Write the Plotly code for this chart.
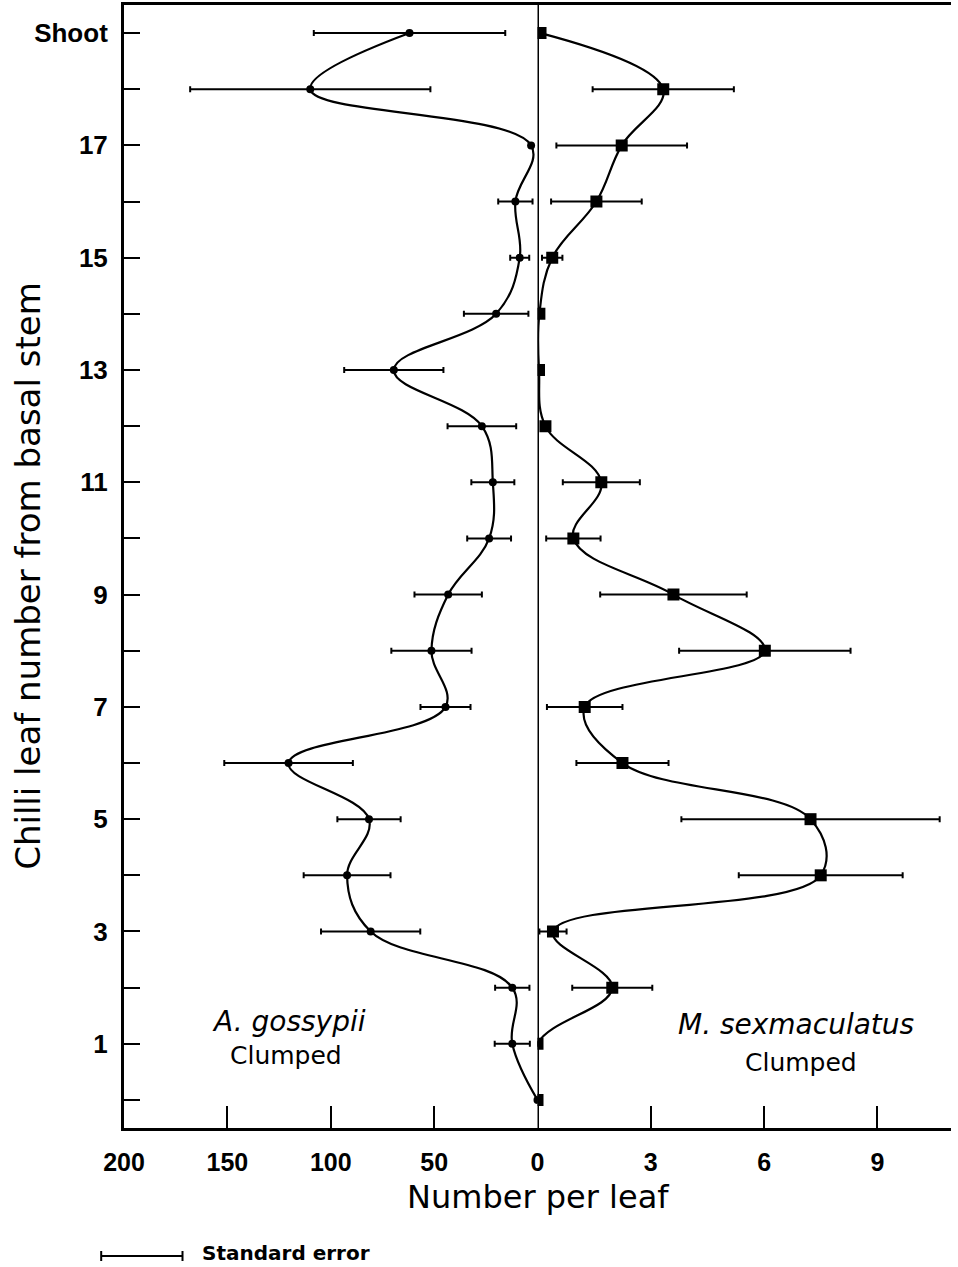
import plotly.graph_objects as go

# ---------------- data ----------------
leaf = list(range(0, 20))  # 0 .. 18 leaves, 19 = Shoot
leaf_labels = ["", "1", "", "3", "", "5", "", "7", "", "9", "", "11", "", "13", "", "15", "", "17", "", "Shoot"]

# A. gossypii (left panel) mean number per leaf and standard error
aphid_mean = [0, 12.2, 12.2, 80.7, 92.1, 81.5, 120.4, 44.5, 51.3, 43.2,
              23.4, 21.6, 26.9, 69.5, 20.0, 8.6, 10.7, 3.1, 109.9, 61.9]
aphid_se = [None, 8.5, 8.3, 24.0, 21.0, 15.3, 31.1, 12.1, 19.4, 16.3,
            10.6, 10.4, 16.6, 24.0, 15.6, 4.6, 8.3, None, 58.1, 46.3]

# M. sexmaculatus (right panel) mean number per leaf and standard error
beetle_mean = [0, 0, 1.98, 0.41, 7.5, 7.23, 2.25, 1.25, 6.02, 3.6,
               0.95, 1.69, 0.21, 0.04, 0.05, 0.39, 1.56, 2.23, 3.33, 0.08]
beetle_se = [None, None, 1.06, 0.36, 2.17, 3.42, 1.22, 1.0, 2.27, 1.94,
             0.72, 1.02, None, None, None, 0.27, 1.2, 1.73, 1.87, None]

left_ticks = [200, 150, 100, 50, 0]
right_ticks = [3, 6, 9]

# ---------------- layout geometry ----------------
W, H = 958, 1267
L, R, T, B = 124, 0, 5, 139
PW, PH = W - L - R, H - T - B


def pxx(xp):
    return (xp - L) / PW


def pyy(yp):
    return (H - B - yp) / PH


split = pxx(541)

fig = go.Figure()

fig.add_trace(go.Scatter(
    x=aphid_mean, y=leaf, xaxis="x", yaxis="y",
    mode="lines+markers",
    line=dict(color="black", width=2.2, shape="spline", smoothing=1.1),
    marker=dict(symbol="circle", size=8, color="black"),
    error_x=dict(type="data", array=aphid_se, visible=True,
                 color="black", thickness=2, width=3),
    showlegend=False, hoverinfo="x+y",
))

fig.add_trace(go.Scatter(
    x=beetle_mean, y=leaf, xaxis="x2", yaxis="y",
    mode="lines+markers",
    line=dict(color="black", width=2.2, shape="spline", smoothing=1.1),
    marker=dict(symbol="square", size=12, color="black"),
    error_x=dict(type="data", array=beetle_se, visible=True,
                 color="black", thickness=2, width=3),
    showlegend=False, hoverinfo="x+y",
))

tick_font = dict(family="Liberation Sans, Arial", size=25, color="black", weight="bold")

fig.update_layout(
    width=W, height=H,
    margin=dict(l=L, r=R, t=T, b=B),
    paper_bgcolor="white", plot_bgcolor="white",
    xaxis=dict(
        domain=[0, split], range=[200, 0], anchor="y",
        tickvals=left_ticks, ticktext=[str(v) for v in left_ticks],
        ticks="inside", ticklen=22, tickwidth=2, tickcolor="black",
        showline=True, linecolor="black", linewidth=3, mirror=True,
        showgrid=False, zeroline=False,
        tickfont=tick_font, ticklabelstandoff=10,
    ),
    xaxis2=dict(
        domain=[split, 1], range=[0, 10.95], anchor="y",
        tickvals=right_ticks, ticktext=[str(v) for v in right_ticks],
        ticks="inside", ticklen=22, tickwidth=2, tickcolor="black",
        showline=True, linecolor="black", linewidth=3, mirror=True,
        showgrid=False, zeroline=False,
        tickfont=tick_font, ticklabelstandoff=10,
    ),
    yaxis=dict(
        range=[-0.5, 19.5], anchor="x",
        tickvals=leaf, ticktext=leaf_labels,
        ticks="inside", ticklen=16, tickwidth=2, tickcolor="black",
        showline=True, linecolor="black", linewidth=3,
        showgrid=False, zeroline=False,
        tickfont=dict(family="Liberation Sans, Arial", size=26, color="black", weight="bold"),
        ticklabelstandoff=8,
    ),
)

# central zero line separating the two panels
fig.add_shape(type="line", xref="x2", yref="paper", x0=0, x1=0, y0=0, y1=1,
              line=dict(color="black", width=3))

# axis titles
fig.add_annotation(text="Chilli leaf number from basal stem", textangle=-90,
                   xref="paper", yref="paper", x=pxx(27), y=pyy(576),
                   xanchor="center", yanchor="middle", showarrow=False,
                   font=dict(family="DejaVu Sans", size=34, color="black"))
fig.add_annotation(text="Number per leaf",
                   xref="paper", yref="paper", x=pxx(542), y=pyy(1197),
                   xanchor="center", yanchor="middle", showarrow=False,
                   font=dict(family="DejaVu Sans", size=32, color="black"))

# species labels
fig.add_annotation(text="<i>A. gossypii</i>", xref="paper", yref="paper",
                   x=pxx(290), y=pyy(1021), xanchor="center", yanchor="middle",
                   showarrow=False, font=dict(family="DejaVu Sans", size=28, color="black"))
fig.add_annotation(text="Clumped", xref="paper", yref="paper",
                   x=pxx(287), y=pyy(1055), xanchor="center", yanchor="middle",
                   showarrow=False, font=dict(family="DejaVu Sans", size=25, color="black"))
fig.add_annotation(text="<i>M. sexmaculatus</i>", xref="paper", yref="paper",
                   x=pxx(802), y=pyy(1024), xanchor="center", yanchor="middle",
                   showarrow=False, font=dict(family="DejaVu Sans", size=28, color="black"))
fig.add_annotation(text="Clumped", xref="paper", yref="paper",
                   x=pxx(807), y=pyy(1062), xanchor="center", yanchor="middle",
                   showarrow=False, font=dict(family="DejaVu Sans", size=25, color="black"))

# standard error key
ky = pyy(1256)
cap = 5 / PH
fig.add_shape(type="line", xref="paper", yref="paper", x0=pxx(101), x1=pxx(183),
              y0=ky, y1=ky, line=dict(color="black", width=2))
for xp in (101, 183):
    fig.add_shape(type="line", xref="paper", yref="paper", x0=pxx(xp), x1=pxx(xp),
                  y0=ky - cap, y1=ky + cap, line=dict(color="black", width=2))
fig.add_annotation(text="Standard error", xref="paper", yref="paper",
                   x=pxx(201), y=pyy(1253), xanchor="left", yanchor="middle",
                   showarrow=False,
                   font=dict(family="DejaVu Sans", size=20, color="black", weight="bold"))

fig.write_html("out.html",
               config={"displayModeBar": False},
               post_script="document.body.style.margin='0';document.body.style.overflow='hidden';")
